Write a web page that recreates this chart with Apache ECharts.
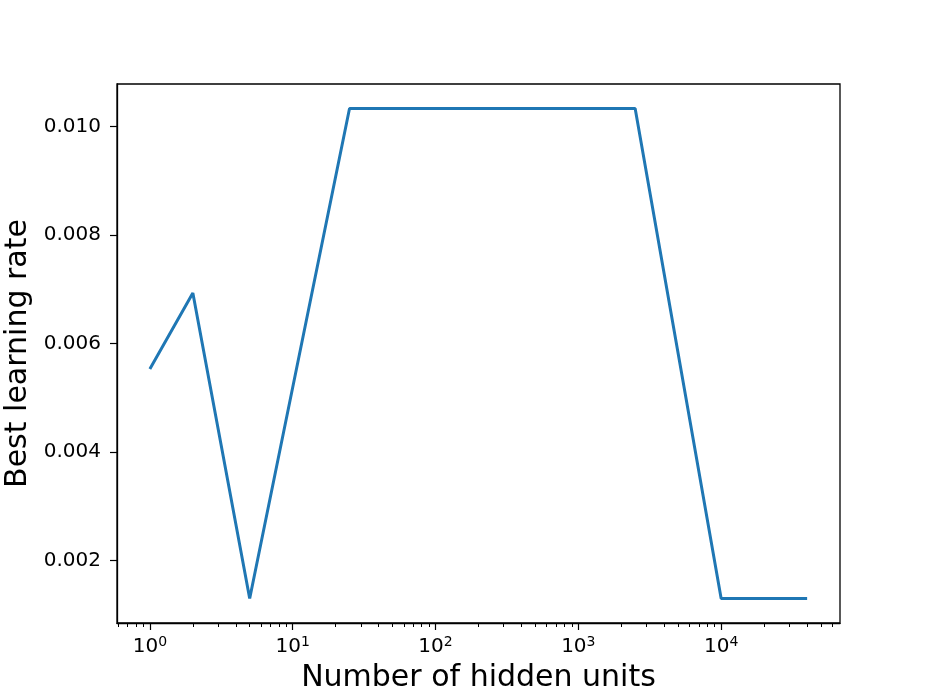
<!DOCTYPE html>
<html lang="en">
<head>
    <meta charset="UTF-8">
    <title>Best learning rate vs hidden units</title>
    <script src="https://cdn.jsdelivr.net/npm/echarts@6/dist/echarts.min.js"></script>
    <style>
        html, body { margin: 0; padding: 0; background: #fff; }
        #chart { width: 934px; height: 700px; }
    </style>
</head>
<body>
    <div id="chart"></div>
    <script>
        // data
        const hiddenUnits = [1, 2, 5, 25, 2500, 10000, 40000];
        const bestLR = [0.00553, 0.00693, 0.00130, 0.01033, 0.01033, 0.00130, 0.00130];

        const xMajorTicks = [1, 10, 100, 1000, 10000];
        const xMinorTicks = [0.6, 0.7, 0.8, 0.9,
            2, 3, 4, 5, 6, 7, 8, 9,
            20, 30, 40, 50, 60, 70, 80, 90,
            200, 300, 400, 500, 600, 700, 800, 900,
            2000, 3000, 4000, 5000, 6000, 7000, 8000, 9000,
            20000, 30000, 40000, 50000, 60000];
        const yTicks = [0.002, 0.004, 0.006, 0.008, 0.010];

        const font = 'DejaVu Sans';
        const xMin = Math.pow(10, -0.2301);
        const xMax = Math.pow(10, 4.8322);

        const chart = echarts.init(document.getElementById('chart'));

        const option = {
            animation: false,
            grid: {
                left: 117,
                right: 94,
                top: 84,
                bottom: 77,
                containLabel: false,
                outerBoundsMode: 'none',
                show: true,
                borderColor: '#000',
                borderWidth: 1.3,
                backgroundColor: '#fff'
            },
            xAxis: [
                {
                    type: 'log',
                    min: xMin,
                    max: xMax,
                    name: 'Number of hidden units',
                    nameLocation: 'middle',
                    nameGap: 40,
                    nameMoveOverlap: false,
                    nameTextStyle: { fontFamily: font, fontSize: 30, color: '#000' },
                    axisLine: { show: true, onZero: false, lineStyle: { color: '#000', width: 1.3 } },
                    axisTick: { show: true, length: 7, lineStyle: { color: '#000', width: 1.2 }, customValues: xMajorTicks },
                    axisLabel: {
                        margin: 12,
                        customValues: xMajorTicks,
                        fontFamily: font,
                        fontSize: 20,
                        color: '#000',
                        formatter: v => '10{sup|' + Math.round(Math.log10(v)) + '}',
                        rich: {
                            sup: { fontFamily: font, fontSize: 14, color: '#000', padding: [0, 0, 10, 0] }
                        }
                    },
                    splitLine: { show: false },
                    minorTick: { show: false }
                },
                {
                    type: 'log',
                    min: xMin,
                    max: xMax,
                    position: 'bottom',
                    axisLine: { show: false },
                    axisTick: { show: true, length: 4, lineStyle: { color: '#000', width: 1 }, customValues: xMinorTicks },
                    axisLabel: { show: false },
                    splitLine: { show: false }
                }
            ],
            yAxis: {
                type: 'value',
                min: 0.000848,
                max: 0.010782,
                name: 'Best learning rate',
                nameLocation: 'middle',
                nameGap: 84,
                nameMoveOverlap: false,
                nameTextStyle: { fontFamily: font, fontSize: 30, color: '#000' },
                axisLine: { show: true, lineStyle: { color: '#000', width: 1.3 } },
                axisTick: { show: true, length: 7, lineStyle: { color: '#000', width: 1.2 }, customValues: yTicks },
                axisLabel: {
                    margin: 16,
                    customValues: yTicks,
                    fontFamily: font,
                    fontSize: 20,
                    color: '#000',
                    formatter: v => v.toFixed(3)
                },
                splitLine: { show: false }
            },
            series: [
                {
                    type: 'line',
                    data: hiddenUnits.map((u, i) => [u, bestLR[i]]),
                    showSymbol: false,
                    symbol: 'none',
                    lineStyle: { color: '#1f77b4', width: 3 },
                    itemStyle: { color: '#1f77b4' }
                }
            ]
        };

        chart.setOption(option);
        window.addEventListener('resize', () => chart.resize());
    </script>
</body>
</html>
